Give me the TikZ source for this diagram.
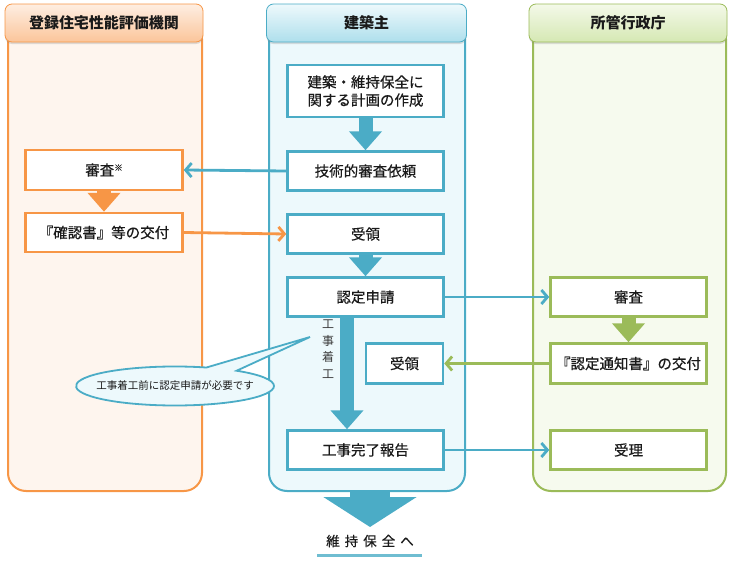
\documentclass[tikz,border=0pt]{standalone}
\usepackage{fontspec}
\setmainfont{Noto Sans CJK JP}
\newfontfamily\medfont{Noto Sans CJK JP}[FakeBold=0.5]
\usetikzlibrary{arrows.meta,shapes.callouts,shadows}
\definecolor{org}{HTML}{F79646}
\definecolor{orgfill}{HTML}{FEF5EE}
\definecolor{orgtop}{HTML}{FEEEE2}
\definecolor{orgbot}{HTML}{FBC59A}
\definecolor{blu}{HTML}{4BACC6}
\definecolor{blufill}{HTML}{EDF9FC}
\definecolor{blutop}{HTML}{EEF9FC}
\definecolor{blubot}{HTML}{AEDFEC}
\definecolor{grn}{HTML}{9BBB59}
\definecolor{grnfill}{HTML}{F6FAEE}
\definecolor{grntop}{HTML}{F4F9E9}
\definecolor{grnbot}{HTML}{D5E8B3}
\definecolor{txt}{HTML}{1A1A1A}
\begin{document}
\begin{tikzpicture}[x=1pt,y=-1pt,
  colbody/.style={draw=#1, line width=2pt, rounded corners=18pt, anchor=north west},
  hdr/.style={draw=#1, line width=0.8pt, rounded corners=7pt, minimum height=38pt,
    text=txt, font=\bfseries\fontsize{15}{17}\selectfont,
    drop shadow={opacity=0.25, shadow xshift=0pt, shadow yshift=-2pt}},
  box/.style={draw=#1, line width=2.5pt, fill=white, minimum height=39pt, minimum width=156pt,
    text=txt, font=\medfont\fontsize{14.5}{18}\selectfont, align=center, inner sep=1pt},
  conn/.style={draw=#1, line width=2.8pt, -{Straight Barb[length=6pt,width=14pt]}},
  blk/.style={draw=#1, line width=14pt, -{Triangle[width=32pt,length=19pt]}},
]
\useasboundingbox (0,0) rectangle (732,562);

% column bodies
\node[colbody=org, fill=orgfill, minimum width=194pt, minimum height=470pt] (lcol) at (7,20) {};
\node[colbody=blu, fill=blufill, minimum width=196pt, minimum height=470pt] (mcol) at (268,20) {};
\node[colbody=grn, fill=grnfill, minimum width=193pt, minimum height=470pt] (rcol) at (532,20) {};

% headers
\node[hdr=org, top color=orgtop, bottom color=orgbot, minimum width=198pt] (lh) at (104,23) {登録住宅性能評価機関};
\node[hdr=blu, top color=blutop, bottom color=blubot, minimum width=200pt] (mh) at (366.5,23) {建築主};
\node[hdr=grn, top color=grntop, bottom color=grnbot, minimum width=198pt] (rh) at (628,23) {所管行政庁};

% middle boxes
\node[box=blu, minimum height=52pt] (plan) at (365.5,91) {建築・維持保全に\\関する計画の作成};
\node[box=blu] (req) at (365.5,171) {技術的審査依頼};
\node[box=blu] (recv1) at (365.5,234) {受領};
\node[box=blu] (apply) at (365.5,297) {認定申請};
\node[box=blu, minimum width=77pt, minimum height=40pt] (recv2) at (404.5,363.5) {受領};
\node[box=blu] (report) at (365.5,450) {工事完了報告};

% left boxes
\node[box=org, minimum width=157pt, minimum height=40pt] (lshin) at (104,170) {審査\raisebox{0.6ex}{\fontsize{8.5}{8}\selectfont ※}};
\node[box=org, minimum width=157pt] (kaku) at (104,232.5) {『確認書』等の交付};

% right boxes
\node[box=grn] (rshin) at (628.5,297) {審査};
\node[box=grn, minimum height=40pt] (tsuchi) at (628.5,363.5) {『認定通知書』の交付};
\node[box=grn] (juri) at (628.5,450) {受理};

% block arrows
\draw[blk=blu] (plan.south) -- (req.north);
\draw[blk=blu] (recv1.south) -- (apply.north);
\draw[blk=org] (lshin.south) -- (kaku.north);
\draw[blk=grn] (rshin.south) -- (tsuchi.north);
\draw[blk=blu] (apply.south -| 347,0) -- (report.north -| 347,0);

% connectors
\draw[conn=blu] (req.west) -- (lshin.east);
\draw[conn=org] (kaku.east) -- (recv1.west);
\draw[conn=blu] (apply.east) -- (rshin.west);
\draw[conn=grn] (tsuchi.west) -- (recv2.east);
\draw[conn=blu] (report.east) -- (juri.west);

% vertical label
\node[text=txt!85, font=\fontsize{12}{16.5}\selectfont, align=center] (start) at (328,349) {工\\事\\着\\工};

% callout
\node[ellipse callout, draw=blu, line width=1.8pt, fill=blufill, callout absolute pointer={(310,337)},
  callout pointer arc=20, minimum width=198pt, minimum height=39pt, inner xsep=-9pt, inner ysep=0pt,
  font=\fontsize{10.5}{12}\selectfont, text=txt] (note) at (175,386) {工事着工前に認定申請が必要です};

% bottom arrow
\coordinate (tipend) at (370,527);
\draw[draw=blu, line width=40pt, -{Triangle[width=92pt,length=30pt]}] (mcol.south -| tipend) -- (tipend);
\node[font=\medfont\fontsize{13.5}{15}\selectfont, text=txt] (next) at (370,541) {維\hspace{5pt}持\hspace{5pt}保\hspace{5pt}全\hspace{5pt}へ};
\coordinate (ul1) at (317,555);
\coordinate (ul2) at (422,555);
\draw[draw=blu, line width=3pt, opacity=0.8] (ul1) -- (ul2);
\end{tikzpicture}
\end{document}
